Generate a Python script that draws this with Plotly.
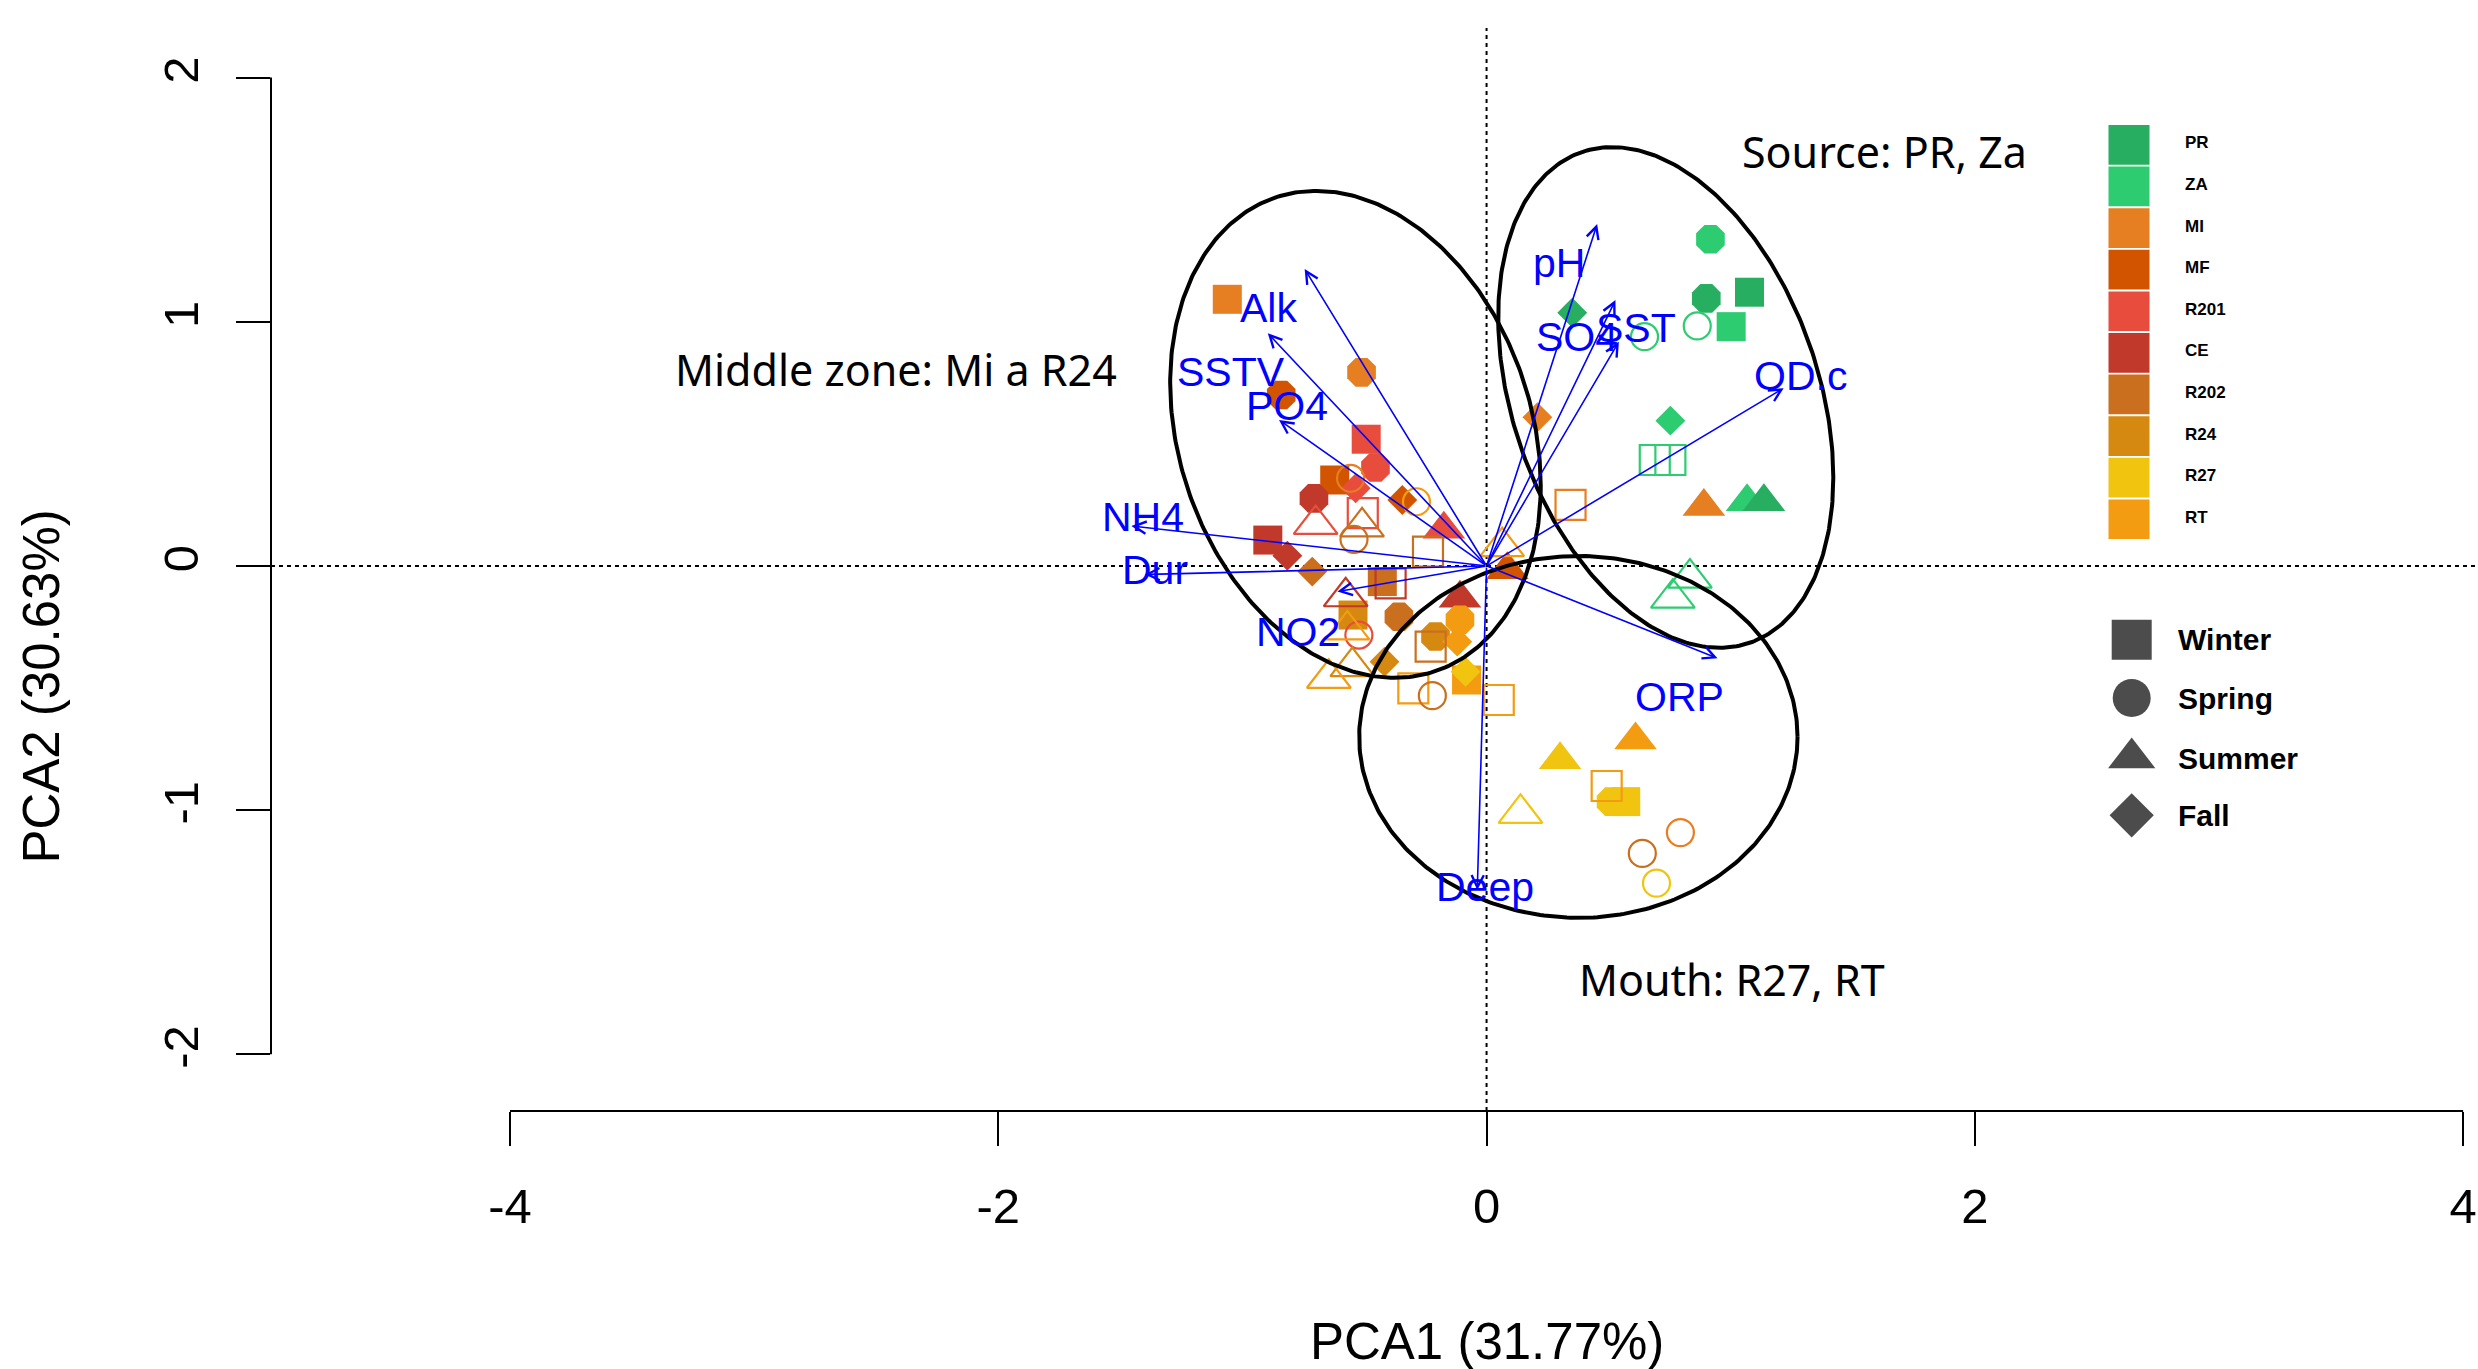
import numpy as np
import plotly.graph_objects as go

# ---------------- figure geometry ----------------
W, H = 2478, 1369
ML, MR, MT, MB = 271, 0, 28, 258
X_RANGE = [-4.979, 4.061]
Y_RANGE = [-2.232, 2.203]

# ---------------- legend categories ----------------
sites = ["PR", "ZA", "MI", "MF", "R201", "CE", "R202", "R24", "R27", "RT"]
site_colors = ["#27AE60", "#2ECC71", "#E67E22", "#D35400", "#E74C3C",
               "#C0392B", "#CA6F1E", "#D68910", "#F1C40F", "#F39C12"]
seasons = ["Winter", "Spring", "Summer", "Fall"]

# ---------------- sample scores (PCA1, PCA2) ----------------
pt_site = ["MI", "MI", "MF", "R201", "R201", "MF", "MI", "R201", "CE", "MF",
           "RT", "R201", "R202", "R201", "R201", "CE", "CE", "R202", "R202", "R202",
           "R202", "CE", "CE", "R24", "R201", "RT", "R202", "CE", "RT", "R24",
           "R202", "RT", "R24", "R24", "RT", "RT", "R202", "RT", "R27", "RT",
           "MF", "RT", "ZA", "PR", "PR", "ZA", "ZA", "ZA", "PR", "MI",
           "ZA", "ZA", "ZA", "MI", "MI", "ZA", "PR", "ZA", "ZA", "RT",
           "R27", "RT", "R27", "R27", "R27", "MI", "R202", "R27"]
pt_season = ["Winter", "Spring", "Spring", "Winter", "Spring", "Winter", "Spring", "Fall", "Spring", "Fall",
             "Spring", "Winter", "Summer", "Summer", "Summer", "Winter", "Fall", "Spring", "Winter", "Fall",
             "Winter", "Winter", "Summer", "Winter", "Spring", "Summer", "Spring", "Summer", "Spring", "Spring",
             "Winter", "Fall", "Fall", "Summer", "Summer", "Winter", "Spring", "Winter", "Fall", "Winter",
             "Summer", "Summer", "Spring", "Spring", "Winter", "Winter", "Spring", "Spring", "Fall", "Fall",
             "Fall", "Winter", "Winter", "Winter", "Summer", "Summer", "Summer", "Summer", "Summer", "Summer",
             "Summer", "Winter", "Spring", "Winter", "Summer", "Spring", "Spring", "Spring"]
pt_filled = [1, 1, 1, 1, 1, 1, 0, 1, 1, 1,
             0, 0, 0, 0, 1, 1, 1, 0, 0, 1,
             1, 0, 0, 1, 0, 0, 1, 1, 1, 1,
             0, 1, 1, 0, 0, 0, 0, 1, 1, 0,
             1, 0, 1, 1, 1, 1, 0, 0, 1, 1,
             1, 0, 0, 0, 1, 1, 1, 0, 0, 1,
             1, 0, 1, 1, 0, 0, 0, 0]
pc1 = [-1.062, -0.512, -0.841, -0.493, -0.455, -0.622, -0.557, -0.536, -0.707, -0.345,
       -0.287, -0.507, -0.510, -0.700, -0.175, -0.896, -0.816, -0.543, -0.240, -0.714,
       -0.427, -0.393, -0.577, -0.547, -0.523, -0.570, -0.359, -0.109, -0.109, -0.209,
       -0.229, -0.120, -0.418, -0.550, -0.646, -0.300, -0.222, -0.082, -0.086, 0.050,
       0.085, 0.064, 0.917, 0.900, 1.077, 1.002, 0.863, 0.647, 0.351, 0.208,
       0.753, 0.689, 0.753, 0.344, 0.890, 1.067, 1.136, 0.833, 0.763, 0.610,
       0.301, 0.492, 0.510, 0.570, 0.139, 0.794, 0.638, 0.696]
pc2 = [1.092, 0.793, 0.700, 0.519, 0.403, 0.352, 0.359, 0.318, 0.277, 0.270,
       0.263, 0.216, 0.160, 0.170, 0.150, 0.106, 0.042, 0.109, 0.059, -0.023,
       -0.064, -0.071, -0.126, -0.201, -0.283, -0.262, -0.208, -0.132, -0.221, -0.289,
       -0.330, -0.310, -0.392, -0.412, -0.460, -0.501, -0.531, -0.467, -0.433, -0.549,
       -0.016, 0.079, 1.338, 1.096, 1.121, 0.980, 0.983, 0.939, 1.037, 0.609,
       0.595, 0.434, 0.434, 0.250, 0.243, 0.263, 0.263, -0.050, -0.132, -0.713,
       -0.794, -0.901, -0.965, -0.965, -1.013, -1.092, -1.177, -1.299]

# ---------------- variable loadings (arrows) ----------------
var_names = ["pH", "SO4", "SST", "OD.c", "ORP", "Deep", "NO2", "Dur", "NH4", "PO4", "SSTV", "Alk"]
load_x = [0.453, 0.528, 0.542, 1.217, 0.946, -0.038, -0.611, -1.400, -1.455, -0.850, -0.896, -0.745]
load_y = [1.400, 1.089, 0.918, 0.728, -0.378, -1.327, -0.105, -0.035, 0.164, 0.598, 0.953, 1.216]
label_x = [0.296, 0.371, 0.611, 1.286, 0.790, -0.006, -0.773, -1.357, -1.409, -0.818, -1.045, -0.893]
label_y = [1.240, 0.939, 0.973, 0.776, -0.535, -1.313, -0.269, -0.017, 0.202, 0.657, 0.795, 1.055]

# ---------------- group ellipses (center, covariance-like shape) ----------------
ell_cx = [-0.537, 0.734, 0.376]
ell_cy = [0.539, 0.690, -0.700]
ell_sxx = [0.576, 0.471, 0.806]
ell_syy = [0.994, 1.051, 0.549]
ell_sxy = [-0.160, -0.225, 0.0]

# ---------------- zone annotations ----------------
zone_text = ["Middle zone: Mi a R24", "Source: PR, Za", "Mouth: R27, RT"]
zone_x = [-2.418, 1.630, 1.005]
zone_y = [0.803, 1.697, -1.692]

color_of = dict(zip(sites, site_colors))
filled_sym = {"Winter": "square", "Spring": "octagon", "Summer": "triangle-up", "Fall": "diamond"}
open_sym = {"Winter": "square-open", "Spring": "circle-open", "Summer": "triangle-up-open", "Fall": "diamond-open"}
filled_size = {"Winter": 29, "Spring": 31, "Summer": 37, "Fall": 23}
open_size = {"Winter": 30, "Spring": 27, "Summer": 38, "Fall": 25}

fig = go.Figure()

PW = W - ML - MR
PH = H - MT - MB


def px2x(px):
    return (px - ML) / PW


def py2y(py):
    return (H - MB - py) / PH


# points: filled first, then hollow
for filled in (1, 0):
    idx = [i for i in range(len(pc1)) if pt_filled[i] == filled]
    fig.add_trace(go.Scatter(
        x=[pc1[i] for i in idx], y=[pc2[i] for i in idx], mode="markers",
        marker=dict(
            symbol=[(filled_sym if filled else open_sym)[pt_season[i]] for i in idx],
            size=[(filled_size if filled else open_size)[pt_season[i]] for i in idx],
            color=[color_of[pt_site[i]] for i in idx],
            line=dict(width=0 if filled else 2.2,
                      color=[color_of[pt_site[i]] for i in idx]),
            opacity=1),
        showlegend=False, hoverinfo="skip"))

# ellipses
t = np.linspace(0, 2 * np.pi, 361)
for cx, cy, sxx, syy, sxy in zip(ell_cx, ell_cy, ell_sxx, ell_syy, ell_sxy):
    L = np.linalg.cholesky(np.array([[sxx, sxy], [sxy, syy]]))
    pts = L @ np.vstack([np.cos(t), np.sin(t)])
    fig.add_trace(go.Scatter(x=cx + pts[0], y=cy + pts[1], mode="lines",
                             line=dict(color="black", width=4),
                             showlegend=False, hoverinfo="skip"))

# arrows & labels
for name, x, y, lx, ly in zip(var_names, load_x, load_y, label_x, label_y):
    fig.add_annotation(x=x, y=y, ax=0, ay=0, xref="x", yref="y", axref="x", ayref="y",
                       text="", showarrow=True, arrowhead=5, arrowsize=1.5,
                       arrowwidth=1.6, arrowcolor="#0000FF", standoff=0, startstandoff=0)
    fig.add_annotation(x=lx, y=ly, xref="x", yref="y", text=name, showarrow=False,
                       xanchor="center", yanchor="middle",
                       font=dict(family="Liberation Sans, Arial", size=41, color="#0000FF"))

# zone texts
for txt, x, y in zip(zone_text, zone_x, zone_y):
    fig.add_annotation(x=x, y=y, xref="x", yref="y", text=txt, showarrow=False,
                       xanchor="center", yanchor="middle",
                       font=dict(family="Noto Sans", size=43, color="black"))

# dotted reference lines
fig.add_shape(type="line", xref="x", yref="paper", x0=0, x1=0, y0=0, y1=1,
              line=dict(color="black", width=2, dash="4px,4px"), layer="below")
fig.add_shape(type="line", xref="paper", yref="y", x0=0, x1=1, y0=0, y1=0,
              line=dict(color="black", width=2, dash="4px,4px"), layer="below")

# axis lines (R style, only over tick range)
fig.add_shape(type="line", xref="x", yref="paper", x0=-4, x1=4, y0=0, y1=0,
              line=dict(color="black", width=2))
fig.add_shape(type="line", xref="paper", yref="y", x0=0, x1=0, y0=-2, y1=2,
              line=dict(color="black", width=2))

# axis titles
fig.add_annotation(x=0, xref="x", y=py2y(1341), yref="paper", text="PCA1 (31.77%)",
                   showarrow=False, xanchor="center", yanchor="middle",
                   font=dict(family="Liberation Sans, Arial", size=51, color="black"))
fig.add_annotation(x=px2x(42), xref="paper", y=-0.494, yref="y", text="PCA2 (30.63%)",
                   showarrow=False, xanchor="center", yanchor="middle", textangle=-90,
                   font=dict(family="Liberation Sans, Arial", size=51, color="black"))

# ---------------- legend (site colours) ----------------
sq_left, sq_right, sq_top0, sq_step, sq_h = 2108.5, 2149.5, 125.0, 41.6, 39.7
for i, (s, c) in enumerate(zip(sites, site_colors)):
    top = sq_top0 + i * sq_step
    fig.add_shape(type="rect", xref="paper", yref="paper",
                  x0=px2x(sq_left), x1=px2x(sq_right), y0=py2y(top + sq_h), y1=py2y(top),
                  fillcolor=c, line=dict(width=0))
    fig.add_annotation(x=px2x(2183), y=py2y(top + sq_h / 2 - 2), xref="paper", yref="paper",
                       text="<b>%s</b>" % s, showarrow=False, xanchor="left", yanchor="middle",
                       font=dict(family="Liberation Sans, Arial", size=17, color="black"))

# ---------------- legend (season shapes) ----------------
season_y_px = [639.7, 698.0, 758.0, 815.3]
legend_sym = ["square", "circle", "triangle-up", "diamond"]
legend_size = [40, 38, 41, 34]
fig.add_trace(go.Scatter(
    x=[px2x(2131.7)] * 4, y=[py2y(v) for v in season_y_px], mode="markers",
    xaxis="x2", yaxis="y2",
    marker=dict(symbol=legend_sym, size=legend_size, color="black", line=dict(width=0)),
    showlegend=False, hoverinfo="skip"))
for s, yp in zip(seasons, season_y_px):
    fig.add_annotation(x=px2x(2176), y=py2y(yp), xref="paper", yref="paper",
                       text="<b>%s</b>" % s, showarrow=False, xanchor="left", yanchor="middle",
                       font=dict(family="Liberation Sans, Arial", size=30, color="black"))

axis_font = dict(family="Liberation Sans, Arial", size=49, color="black")
fig.update_layout(
    width=W, height=H, margin=dict(l=ML, r=MR, t=MT, b=MB, pad=0),
    paper_bgcolor="white", plot_bgcolor="white", showlegend=False,
    xaxis=dict(range=X_RANGE, showgrid=False, zeroline=False, showline=False,
               ticks="outside", ticklen=34, tickwidth=2, tickcolor="black",
               tickvals=[-4, -2, 0, 2, 4], ticktext=["-4", "-2", "0", "2", "4"],
               tickfont=axis_font, ticklabelstandoff=18, fixedrange=True),
    yaxis=dict(range=Y_RANGE, showgrid=False, zeroline=False, showline=False,
               ticks="outside", ticklen=34, tickwidth=2, tickcolor="black",
               tickvals=[-2, -1, 0, 1, 2], ticktext=["-2", "-1", "0", "1", "2"],
               tickangle=-90, tickfont=axis_font, ticklabelstandoff=18, fixedrange=True),
    xaxis2=dict(range=[0, 1], overlaying="x", visible=False, fixedrange=True),
    yaxis2=dict(range=[0, 1], overlaying="y", visible=False, fixedrange=True),
)

fig.write_html("out.html")
